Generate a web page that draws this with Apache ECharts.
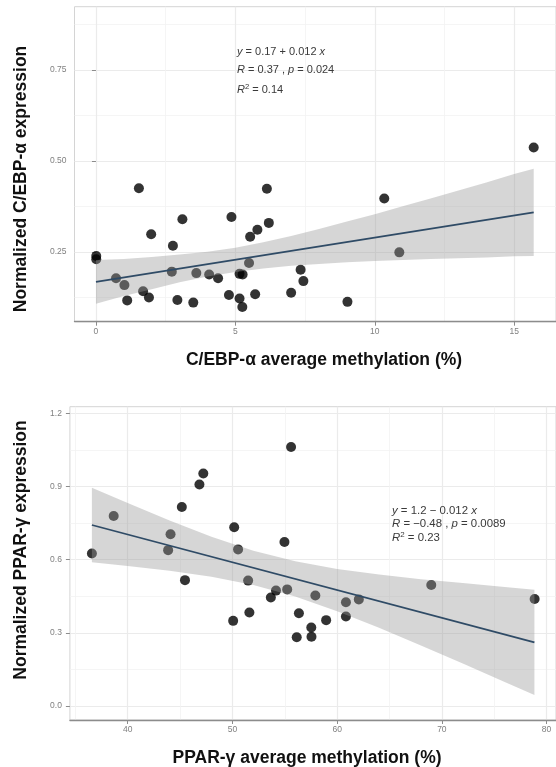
<!DOCTYPE html>
<html>
<head>
<meta charset="utf-8">
<script src="https://cdn.jsdelivr.net/npm/echarts@6/dist/echarts.min.js"></script>
<style>html,body{margin:0;padding:0;background:#fff;}#c{width:556px;height:767px;}</style>
</head>
<body>
<div id="c"></div>
<script>
// ---------- Panel 1: C/EBP-alpha ----------
const cebpX = [0.01,0.01,0.72,1.02,1.12,1.54,1.69,1.90,1.98,2.76,2.72,2.92,3.10,3.49,3.60,4.06,4.38,4.77,4.86,5.15,5.26,5.15,5.25,5.49,5.53,5.71,5.79,6.13,6.20,7.00,7.34,7.44,9.02,10.34,10.88,15.70];
const cebpY = [0.239,0.230,0.178,0.159,0.117,0.425,0.142,0.125,0.299,0.267,0.196,0.118,0.340,0.111,0.192,0.188,0.178,0.132,0.346,0.190,0.188,0.122,0.099,0.220,0.292,0.134,0.311,0.424,0.330,0.138,0.201,0.170,0.113,0.397,0.249,0.537];
const cebpLineX = [0, 15.7];
const cebpLineY = [0.168, 0.359];
const cebpBandX = [0,1,2,3,4,5,6,7,8,9,10,11,12,13,14,15,15.7];
const cebpBandUp = [0.228,0.231,0.236,0.243,0.251,0.262,0.277,0.294,0.313,0.334,0.354,0.376,0.397,0.419,0.441,0.464,0.479];
const cebpBandLo = [0.108,0.129,0.148,0.167,0.183,0.195,0.205,0.212,0.217,0.222,0.225,0.228,0.231,0.233,0.235,0.238,0.239];
const cebpXTicks = [0,5,10,15];
const cebpXMinor = [2.5,7.5,12.5];
const cebpYTicks = [0.25,0.50,0.75];
const cebpYMinor = [0.125,0.375,0.625,0.875];
const cebpXTitle = 'C/EBP-α average methylation (%)';
const cebpYTitle = 'Normalized C/EBP-α expression';

// ---------- Panel 2: PPAR-gamma ----------
const pparX = [36.58,38.66,44.09,43.86,45.17,46.85,47.22,50.17,50.54,54.97,55.60,45.47,51.50,50.07,51.62,53.67,54.16,55.23,57.92,56.35,56.14,57.53,57.55,58.95,60.84,60.84,62.07,68.99,78.86];
const pparY = [0.625,0.779,0.704,0.639,0.816,0.908,0.953,0.733,0.642,0.672,1.062,0.516,0.514,0.349,0.383,0.445,0.473,0.478,0.453,0.380,0.282,0.322,0.284,0.352,0.425,0.367,0.437,0.496,0.439];
const pparLineX = [36.58, 78.84];
const pparLineY = [0.742, 0.261];
const pparBandX = [36.58,40,44,48,52,56,60,64,68,72,76,78.84];
const pparBandUp = [0.895,0.832,0.760,0.694,0.636,0.593,0.562,0.539,0.520,0.504,0.488,0.477];
const pparBandLo = [0.589,0.574,0.554,0.530,0.496,0.449,0.388,0.321,0.248,0.174,0.098,0.045];
const pparXTicks = [40,50,60,70,80];
const pparXMinor = [35,45,55,65,75];
const pparYTicks = [0.0,0.3,0.6,0.9,1.2];
const pparYMinor = [0.15,0.45,0.75,1.05];
const pparXTitle = 'PPAR-γ average methylation (%)';
const pparYTitle = 'Normalized PPAR-γ expression';

const FONT = '"Liberation Sans", Arial, sans-serif';
const GRAY = '#808080';

function zip(a, b) { return a.map((v, i) => [v, b[i]]); }

function mainX(grid, min, max, ticks) {
  return {
    type: 'value', gridIndex: grid, min: min, max: max, position: 'bottom',
    axisLine: { show: true, onZero: false, lineStyle: { color: '#8c8c8c', width: 1.3 } },
    axisTick: { show: true, customValues: ticks, length: 4, lineStyle: { color: '#8c8c8c' } },
    axisLabel: { show: true, customValues: ticks, color: GRAY, fontSize: 8.5, margin: 5, fontFamily: FONT,
      formatter: v => String(Math.round(v)) },
    splitLine: { show: true, lineStyle: { color: '#ebebeb', width: 1.2 } }
  };
}
function minorX(grid, min, max, ticks) {
  return {
    type: 'value', gridIndex: grid, min: min, max: max, position: 'bottom',
    axisLine: { show: false }, axisTick: { show: false, customValues: ticks },
    axisLabel: { show: false, customValues: ticks },
    splitLine: { show: true, lineStyle: { color: '#f3f3f3', width: 0.8 } }
  };
}
function mainY(grid, min, max, ticks, dec) {
  return {
    type: 'value', gridIndex: grid, min: min, max: max, position: 'left',
    axisLine: { show: false },
    axisTick: { show: true, customValues: ticks, length: 4, lineStyle: { color: '#8c8c8c' } },
    axisLabel: { show: true, customValues: ticks, color: GRAY, fontSize: 8.5, margin: 8, fontFamily: FONT,
      formatter: v => v.toFixed(dec) },
    splitLine: { show: true, lineStyle: { color: '#ebebeb', width: 1.2 } }
  };
}
function minorY(grid, min, max, ticks) {
  return {
    type: 'value', gridIndex: grid, min: min, max: max, position: 'left',
    axisLine: { show: false }, axisTick: { show: false, customValues: ticks },
    axisLabel: { show: false, customValues: ticks },
    splitLine: { show: true, lineStyle: { color: '#f3f3f3', width: 0.8 } }
  };
}
function band(xi, yi, bx, up, lo) {
  return {
    type: 'custom', xAxisIndex: xi, yAxisIndex: yi, z: 3, silent: true,
    data: [[bx[0], up[0]]],
    renderItem: function (params, api) {
      const pts = [];
      for (let i = 0; i < bx.length; i++) pts.push(api.coord([bx[i], up[i]]));
      for (let i = bx.length - 1; i >= 0; i--) pts.push(api.coord([bx[i], lo[i]]));
      return { type: 'polygon', shape: { points: pts }, style: { fill: 'rgba(153,153,153,0.4)' } };
    }
  };
}
function annot(x, ys, lines, fs) {
  return lines.map((t, i) => ({
    type: 'text', x: x, y: ys[i], z: 10,
    style: { text: t, fontSize: fs, fontFamily: FONT, fill: '#3a3a3a', verticalAlign: 'middle',
      rich: { i: { fontStyle: 'italic', fontSize: fs, fontFamily: FONT, fill: '#3a3a3a' },
              s: { fontSize: fs * 0.7, fontFamily: FONT, fill: '#3a3a3a', padding: [0, 0, 6, 0] } } }
  }));
}
function title(x, y, text, rot) {
  return { type: 'text', x: x, y: y, rotation: rot ? Math.PI / 2 : 0, z: 10,
    style: { text: text, fontSize: 17.5, fontWeight: 'bold', fontFamily: FONT, fill: '#111', align: 'center', verticalAlign: 'middle' } };
}

const cebpAnnot = ['{i|y} = 0.17 + 0.012 {i|x}', '{i|R} = 0.37 , {i|p} = 0.024', '{i|R}{s|2} = 0.14'];
const pparAnnot = ['{i|y} = 1.2 − 0.012 {i|x}', '{i|R} = −0.48 , {i|p} = 0.0089', '{i|R}{s|2} = 0.23'];

const chart = echarts.init(document.getElementById('c'), null, { renderer: 'canvas' });
chart.setOption({
  animation: false,
  backgroundColor: '#fff',
  grid: [
    { left: 74.5, top: 6.7, right: -5, bottom: 445.3, show: true, borderColor: '#d4d4d4', borderWidth: 1 },
    { left: 69.9, top: 406.7, right: -5, bottom: 47, show: true, borderColor: '#d4d4d4', borderWidth: 1 }
  ],
  xAxis: [
    mainX(0, -0.77, 16.5, cebpXTicks), minorX(0, -0.77, 16.5, cebpXMinor),
    mainX(1, 34.48, 80.9, pparXTicks), minorX(1, 34.48, 80.9, pparXMinor)
  ],
  yAxis: [
    mainY(0, 0.0585, 0.924, cebpYTicks, 2), minorY(0, 0.0585, 0.924, cebpYMinor),
    mainY(1, -0.0574, 1.227, pparYTicks, 1), minorY(1, -0.0574, 1.227, pparYMinor)
  ],
  series: [
    { type: 'scatter', xAxisIndex: 0, yAxisIndex: 0, z: 2, symbolSize: 10, itemStyle: { color: '#000' }, data: zip(cebpX, cebpY) },
    band(0, 0, cebpBandX, cebpBandUp, cebpBandLo),
    { type: 'line', xAxisIndex: 0, yAxisIndex: 0, z: 4, showSymbol: false, lineStyle: { color: '#2f4b66', width: 1.8 }, data: zip(cebpLineX, cebpLineY) },
    { type: 'scatter', xAxisIndex: 2, yAxisIndex: 2, z: 2, symbolSize: 10, itemStyle: { color: '#000' }, data: zip(pparX, pparY) },
    band(2, 2, pparBandX, pparBandUp, pparBandLo),
    { type: 'line', xAxisIndex: 2, yAxisIndex: 2, z: 4, showSymbol: false, lineStyle: { color: '#2f4b66', width: 1.8 }, data: zip(pparLineX, pparLineY) }
  ],
  graphic: [].concat(
    annot(237, [52, 70, 90], cebpAnnot, 11),
    annot(392, [511, 523.5, 538], pparAnnot, 11.4),
    [title(324, 360, cebpXTitle, false), title(307, 758, pparXTitle, false),
     title(21, 179, cebpYTitle, true), title(21, 550, pparYTitle, true)]
  )
});
</script>
</body>
</html>
